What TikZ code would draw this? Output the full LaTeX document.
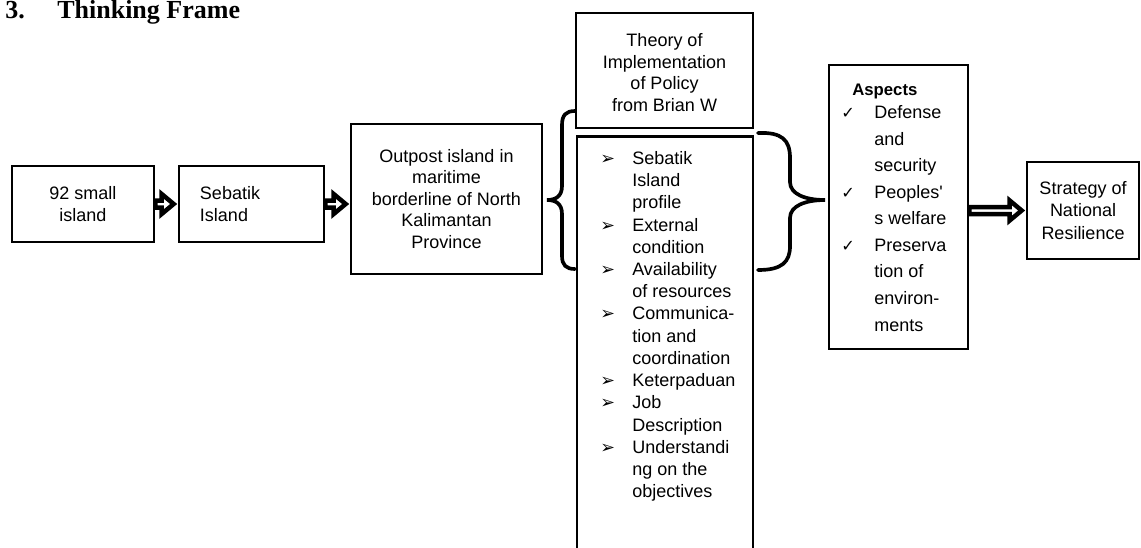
\documentclass[tikz,border=0pt]{standalone}
\usepackage{fontspec}
\setmainfont{Liberation Sans}
\newfontfamily\titlefont{Liberation Serif}
\newfontfamily\symfont{DejaVu Sans}
\usetikzlibrary{calc}

\newcommand{\fatarrow}[2]{%
  \draw[fatline] ($(#1)+(0,-3.5)$) -- ($(#2)+(-16,-3.5)$) -- ($(#2)+(-16,-10)$) -- ($(#2)+(-4,0)$)
    -- ($(#2)+(-16,10)$) -- ($(#2)+(-16,3.5)$) -- ($(#1)+(0,3.5)$) -- cycle;}
\newcommand{\bul}{\makebox[0.8cm][l]{\symfont\fontsize{12.5pt}{12pt}\selectfont ➢}}
\newcommand{\chk}{\makebox[0.825cm][l]{\symfont\fontsize{11.5pt}{12pt}\selectfont ✓}}

\begin{document}
\begin{tikzpicture}[x=0.025cm,y=-0.025cm,
  box/.style={draw, line width=1.9pt, align=center, inner sep=0pt},
  fatline/.style={draw, fill=white, line width=3.2pt, line join=miter},
  curly/.style={line width=2.6pt, line cap=round},
  every node/.append style={font=\fontsize{12.8pt}{15.8pt}\selectfont}]
  \useasboundingbox (0,0) rectangle (1141,547);

  \node[anchor=base west, inner sep=0pt, font=\titlefont\bfseries\fontsize{18.5pt}{20pt}\selectfont] (title) at (5,18.5) {\makebox[1.3cm][l]{3.}Thinking Frame};

  \node[box, minimum width=3.55cm, minimum height=1.9cm] (small) at (83,204) {92 small\\island};
  \node[box, minimum width=3.625cm, minimum height=1.9cm, text width=2.575cm, align=left] (sebatik) at (251.5,204) {Sebatik\\Island};
  \node[box, minimum width=4.775cm, minimum height=3.75cm, font=\fontsize{12.8pt}{15.3pt}\selectfont] (outpost) at (446.5,199) {Outpost island in\\maritime\\borderline of North\\Kalimantan\\Province};
  \node[box, minimum width=4.425cm, minimum height=2.875cm, font=\fontsize{12.8pt}{15.3pt}\selectfont] (theory) at (664.5,70.5) {%
    \raisebox{-0.1cm}[\height][\depth]{\begin{tabular}{@{}c@{}}Theory of\\Implementation\\of Policy\\from Brian W\end{tabular}}};
  \node[box, anchor=north, minimum width=4.4cm, minimum height=10.7cm] (listbox) at (665,135) {};
  \node[anchor=north west, inner sep=0pt] (factors) at (600,148.6) {%
    \begin{tabular}{@{}l@{}l@{}}
      \bul & Sebatik \\ & Island \\ & profile \\
      \bul & External \\ & condition \\
      \bul & Availability \\ & of resources \\
      \bul & Communica- \\ & tion and \\ & coordination \\
      \bul & Keterpaduan \\
      \bul & Job \\ & Description \\
      \bul & Understandi \\ & ng on the \\ & objectives
    \end{tabular}};
  \node[box, minimum width=3.475cm, minimum height=7.1cm] (aspects) at (898.5,207) {};
  \node[anchor=north west, inner sep=0pt, font=\fontsize{12.8pt}{18.9pt}\selectfont] (aspectlist) at (841,77) {%
    \begin{tabular}{@{}l@{}l@{}}
      \multicolumn{2}{@{}l@{}}{\hspace{0.275cm}\bfseries\fontsize{11.9pt}{18.9pt}\selectfont Aspects} \\[-0.1cm]
      \chk & Defense \\ & and \\ & security \\
      \chk & Peoples\textquotesingle \\ & s welfare \\
      \chk & Preserva \\ & tion of \\ & environ- \\ & ments
    \end{tabular}};
  \node[box, minimum width=2.8cm, minimum height=2.425cm] (strategy) at (1083,210.5) {Strategy of\\National\\Resilience};

  \fatarrow{small.east}{sebatik.west}
  \fatarrow{sebatik.east}{sebatik.east -| outpost.west}
  \fatarrow{aspects.east |- strategy.west}{strategy.west}

  \draw[curly] (575,111) .. controls (566,111) and (562,115) .. (562,125) -- (562,186) .. controls (562,196) and (556,200) .. (547,200) .. controls (556,200) and (562,204) .. (562,214) -- (562,256) .. controls (562,265) and (566,269) .. (575,269);
  \draw[curly] (758,133) .. controls (782,132) and (790,140) .. (790,158) -- (790,182) .. controls (790,194) and (805,200) .. (825,200) .. controls (805,200) and (790,206) .. (790,218) -- (790,246) .. controls (790,262) and (782,270) .. (758,270);
\end{tikzpicture}
\end{document}
